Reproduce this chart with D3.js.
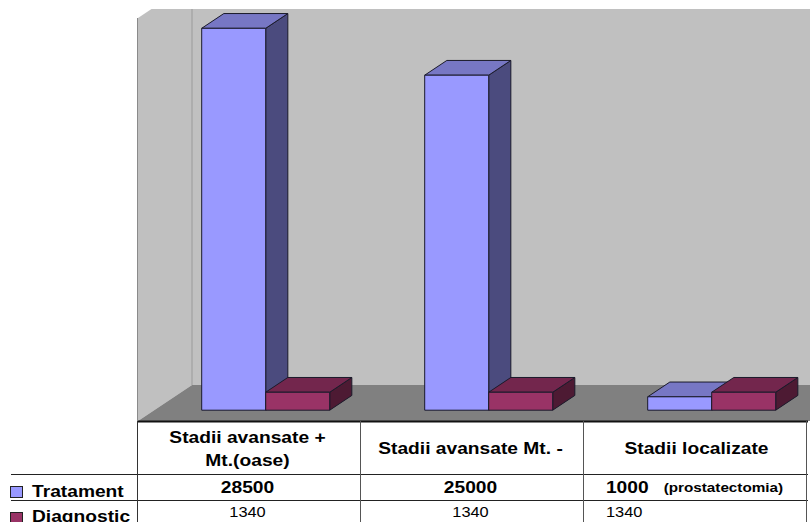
<!DOCTYPE html>
<html>
<head>
<meta charset="utf-8">
<script src="https://cdn.jsdelivr.net/npm/d3@7/dist/d3.min.js"></script>
<style>
  html, body { margin: 0; padding: 0; background: #fff; }
  svg { display: block; font-family: "Liberation Sans", Arial, sans-serif; }
</style>
</head>
<body>
<svg id="chart" width="810" height="522"></svg>
<script>
// Costs per stage: treatment vs. diagnosis
const categories = ["Stadii avansate + Mt.(oase)", "Stadii avansate Mt. -", "Stadii localizate"];
const categoryLines = [["Stadii avansate +", "Mt.(oase)"], ["Stadii avansate Mt. -"], ["Stadii localizate"]];
const seriesNames = ["Tratament", "Diagnostic"];
const tratament = [28500, 25000, 1000];
const diagnostic = [1340, 1340, 1340];
const notes = ["", "", "(prostatectomia)"];

const seriesValues = [tratament, diagnostic];
const colors = {
  Tratament: { front: "#9999ff", top: "#7777c4", side: "#4b4b7e" },
  Diagnostic: { front: "#993366", top: "#73264d", side: "#4d1a33" }
};

const svg = d3.select("#chart");

// plot geometry (front plane of the floor, 3D depth vector)
const left = 138, right = 807;
const floorFront = 421;
const depth = { x: 54, y: -36 };
const barDepthStart = 0.3, barDepthLen = 0.41;

const x0 = d3.scaleBand().domain(categories).range([left, right]).padding(0);
const x1 = d3.scaleBand().domain(seriesNames).range([0, 128]).padding(0);
const y = d3.scaleLinear().domain([0, 30000]).range([0, 402]);

// clip the chart to the visible area
svg.append("defs").append("clipPath").attr("id", "plotClip")
  .append("rect").attr("x", 0).attr("y", 9).attr("width", 810).attr("height", floorFront - 9 + 1);

const plot = svg.append("g").attr("clip-path", "url(#plotClip)");
const top0 = floorFront + depth.y - y(30000) - 1; // top of back wall

// back wall
plot.append("rect")
  .attr("x", left + depth.x).attr("y", top0)
  .attr("width", 900).attr("height", floorFront + depth.y - top0)
  .attr("fill", "#c0c0c0");

// side wall
plot.append("polygon")
  .attr("points", [
    [left, floorFront], [left, top0 - depth.y], [left + depth.x, top0], [left + depth.x, floorFront + depth.y]
  ].join(" "))
  .attr("fill", "#c0c0c0");
plot.append("line")
  .attr("x1", left + depth.x).attr("x2", left + depth.x)
  .attr("y1", top0).attr("y2", floorFront + depth.y)
  .attr("stroke", "#9a9a9a").attr("stroke-width", 1);
plot.append("line")
  .attr("x1", left - 0.5).attr("x2", left - 0.5)
  .attr("y1", top0 - depth.y).attr("y2", floorFront)
  .attr("stroke", "#8a8a8a").attr("stroke-width", 1);

// floor
plot.append("polygon")
  .attr("points", [
    [left, floorFront], [left + depth.x, floorFront + depth.y], [900, floorFront + depth.y], [900, floorFront]
  ].join(" "))
  .attr("fill", "#808080");

// 3D bars
const bars = plot.append("g");
categories.forEach((cat, ci) => {
  seriesNames.forEach((s, si) => {
    const v = seriesValues[si][ci];
    const c = colors[s];
    const bx = x0(cat) + x0.bandwidth() / 2 - 64 + x1(s) + depth.x * barDepthStart;
    const by = floorFront + depth.y * barDepthStart;
    const w = x1.bandwidth();
    const h = y(v);
    const dx = depth.x * barDepthLen, dy = depth.y * barDepthLen;
    const g = bars.append("g").attr("stroke", "#1a1a2a").attr("stroke-width", 1).attr("stroke-linejoin", "round");
    // side face
    g.append("polygon")
      .attr("points", [[bx + w, by], [bx + w, by - h], [bx + w + dx, by - h + dy], [bx + w + dx, by + dy]].join(" "))
      .attr("fill", c.side);
    // top face
    g.append("polygon")
      .attr("points", [[bx, by - h], [bx + dx, by - h + dy], [bx + w + dx, by - h + dy], [bx + w, by - h]].join(" "))
      .attr("fill", c.top);
    // front face
    g.append("rect")
      .attr("x", bx).attr("y", by - h).attr("width", w).attr("height", h)
      .attr("fill", c.front);
  });
});

// data table
const table = svg.append("g");
const rowLines = [474, 500];
table.append("line")
  .attr("x1", left).attr("x2", right + 1).attr("y1", floorFront + 0.5).attr("y2", floorFront + 0.5)
  .attr("stroke", "#111").attr("stroke-width", 2);
rowLines.forEach(yy => {
  table.append("line")
    .attr("x1", 11).attr("x2", right + 1).attr("y1", yy + 0.5).attr("y2", yy + 0.5)
    .attr("stroke", "#222").attr("stroke-width", 1);
});
const colEdges = [left].concat(categories.map(c => x0(c) + x0.bandwidth()));
colEdges.forEach((xx, i) => {
  table.append("line")
    .attr("x1", Math.round(xx) - 0.5).attr("x2", Math.round(xx) - 0.5)
    .attr("y1", floorFront).attr("y2", 522)
    .attr("stroke", i === 0 ? "#333" : "#555").attr("stroke-width", 1);
});

const sx = 1.13; // horizontal stretch of table text
function label(g, x, yy, text, size, weight, anchor) {
  return g.append("text")
    .attr("transform", `translate(${x},${yy}) scale(${sx},1)`)
    .attr("text-anchor", anchor || "middle")
    .attr("font-size", size).attr("font-weight", weight)
    .attr("fill", "#000")
    .text(text);
}

// header row
categories.forEach((cat, ci) => {
  const cx = x0(cat) + x0.bandwidth() / 2 - 2;
  const lines = categoryLines[ci];
  if (lines.length === 2) {
    label(table, cx, 443, lines[0], 17, "bold");
    label(table, cx, 466, lines[1], 17, "bold");
  } else {
    label(table, cx + (ci === 2 ? 3 : 0), 454, lines[0], 17, "bold");
  }
});

// series rows
categories.forEach((cat, ci) => {
  const cx = x0(cat) + x0.bandwidth() / 2 - 2;
  if (notes[ci]) {
    const gap = 15;
    const t1 = label(table, 0, 493, d3.format("d")(tratament[ci]), 17, "bold", "start");
    const t2 = label(table, 0, 492, notes[ci], 13.5, "bold", "start");
    const w1 = t1.node().getComputedTextLength() * sx;
    const w2 = t2.node().getComputedTextLength() * sx;
    const start = cx + 1 - (w1 + gap + w2) / 2;
    t1.attr("transform", `translate(${start},493) scale(${sx},1)`);
    t2.attr("transform", `translate(${start + w1 + gap},492) scale(${sx},1)`);
    label(table, start, 517, d3.format("d")(diagnostic[ci]), 14.5, "normal", "start");
  } else {
    label(table, cx, 493, d3.format("d")(tratament[ci]), 17, "bold");
    label(table, cx, 517, d3.format("d")(diagnostic[ci]), 14.5, "normal");
  }
});

// legend keys in row headers
const legendY = [486, 512];
seriesNames.forEach((s, si) => {
  table.append("rect")
    .attr("x", 10.5).attr("y", legendY[si] + 0.5).attr("width", 12).attr("height", 11)
    .attr("fill", colors[s].front).attr("stroke", "#222").attr("stroke-width", 1);
  label(table, 32, legendY[si] + 11 + (si === 1 ? -1 : 0), s, 17, "bold", "start");
});
</script>
</body>
</html>
